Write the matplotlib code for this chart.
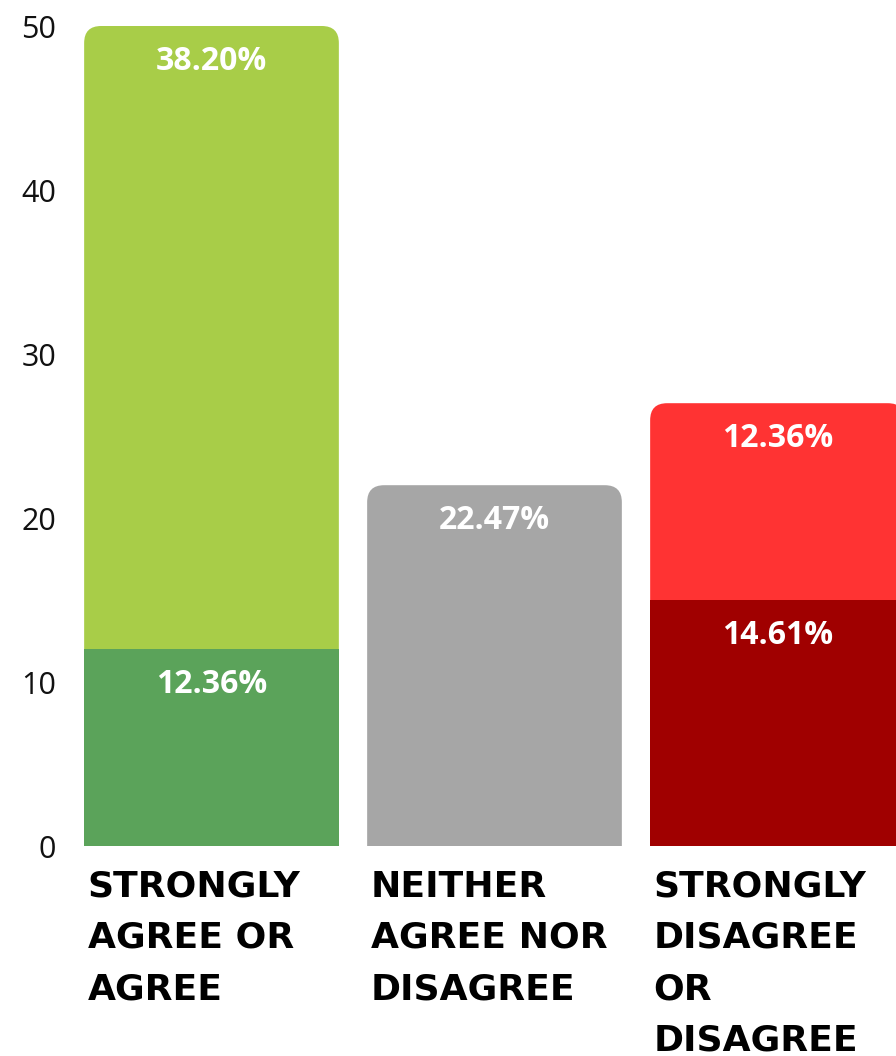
import matplotlib
matplotlib.use("Agg")
import matplotlib.pyplot as plt
from matplotlib.patches import FancyBboxPatch
import numpy as np

categories = ["STRONGLY\nAGREE OR\nAGREE", "NEITHER\nAGREE NOR\nDISAGREE", "STRONGLY\nDISAGREE\nOR\nDISAGREE"]
bottom_values = [12, 22, 15]
top_values = [38, 0, 12]
bottom_labels = ["12.36%", "22.47%", "14.61%"]
top_labels = ["38.20%", "", "12.36%"]
bottom_colors = ["#5BA35A", "#A6A6A6", "#A00000"]
top_colors = ["#A8CD48", "#A6A6A6", "#FF3333"]
yticks = [0, 10, 20, 30, 40, 50]

W, H = 896, 1056
fig = plt.figure(figsize=(W / 100, H / 100), dpi=100)
ax_left, ax_right, ax_top, ax_bottom = 70, 919, 26, 846
ax = fig.add_axes([ax_left / W, (H - ax_bottom) / H, (ax_right - ax_left) / W, (ax_bottom - ax_top) / H])

x = np.arange(len(categories))
width = 0.9
ax.set_xlim(-0.5, 2.5)
ax.set_ylim(0, 50)

px_x = (ax_right - ax_left) / 3.0
px_y = (ax_bottom - ax_top) / 50.0
radius_px = 17
rx = radius_px / px_x
aspect = px_x / px_y

def rounded_top(bar, color):
    bx, by, bw, bh = bar.get_x(), bar.get_y(), bar.get_width(), bar.get_height()
    bar.remove()
    ext = 2 * radius_px / px_y
    p = FancyBboxPatch((bx, by - ext), bw, bh + ext,
                       boxstyle=f"round,pad=0,rounding_size={rx}",
                       mutation_aspect=aspect, facecolor=color, edgecolor="none",
                       linewidth=0, zorder=1)
    ax.add_patch(p)

tops = [b + t for b, t in zip(bottom_values, top_values)]
for i in range(len(categories)):
    if top_values[i] > 0:
        tb = ax.bar(x[i], top_values[i], width, bottom=bottom_values[i], color=top_colors[i], linewidth=0)[0]
        rounded_top(tb, top_colors[i])
        ax.bar(x[i], bottom_values[i], width, color=bottom_colors[i], linewidth=0, zorder=2)
    else:
        tb = ax.bar(x[i], bottom_values[i], width, color=bottom_colors[i], linewidth=0)[0]
        rounded_top(tb, bottom_colors[i])

lab_font = dict(family="Open Sans", weight="bold", size=23, color="white")
for i in range(len(categories)):
    ax.annotate(bottom_labels[i], (x[i], bottom_values[i]), xytext=(0, -35),
                textcoords="offset pixels", ha="center", va="center", zorder=5, **lab_font)
    if top_labels[i]:
        ax.annotate(top_labels[i], (x[i], tops[i]), xytext=(0, -35),
                    textcoords="offset pixels", ha="center", va="center", zorder=5, **lab_font)

for s in ax.spines.values():
    s.set_visible(False)

ax.set_yticks(yticks)
ax.set_yticklabels([str(v) for v in yticks], family="Open Sans", fontsize=22, color="#111111")
ax.tick_params(axis="y", length=0, pad=10)

ax.set_xticks(x - width / 2 + 0.012)
ax.set_xticklabels(categories, family="DejaVu Sans", weight="bold", fontsize=26,
                   ha="left", va="top", linespacing=1.64, color="black")
ax.tick_params(axis="x", length=0, pad=17)

fig.savefig("out.png", dpi=100)
